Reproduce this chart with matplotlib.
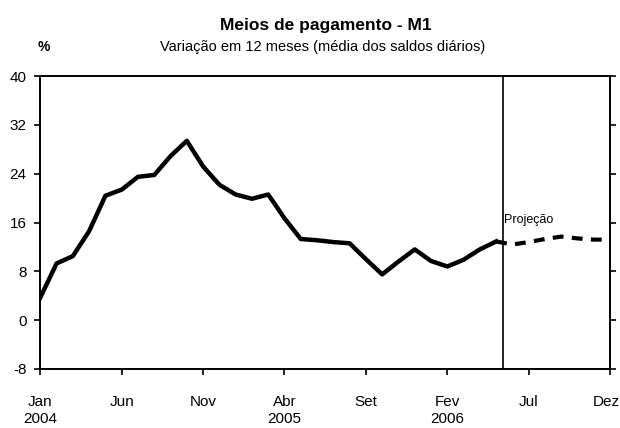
import matplotlib
matplotlib.use('Agg')
import matplotlib.pyplot as plt
import matplotlib.transforms as mtransforms

plt.rcParams['font.family'] = ['Liberation Sans', 'DejaVu Sans']

# Meses: Jan 2004 (0) ... Dez 2006 (35)
realizado = [3.7, 9.3, 10.5, 14.6, 20.4, 21.4, 23.5, 23.8, 26.9, 29.4,
             25.2, 22.2, 20.6, 19.9, 20.6, 16.7, 13.3, 13.1, 12.8, 12.6,
             10.0, 7.5, 9.6, 11.6, 9.7, 8.8, 9.9, 11.6, 12.9]
projecao = [12.9, 12.4, 12.8, 13.3, 13.7, 13.4, 13.2, 13.2]

tick_pos = [0, 5, 10, 15, 20, 25, 30, 35]
tick_labels = ['Jan\n2004', 'Jun', 'Nov', 'Abr\n2005', 'Set', 'Fev\n2006', 'Jul', 'Dez']
y_ticks = [-8, 0, 8, 16, 24, 32, 40]

x_real = list(range(len(realizado)))
x_proj = list(range(len(realizado) - 1, len(realizado) - 1 + len(projecao)))
divisao = 28.4

fig = plt.figure(figsize=(6.2, 4.28), dpi=100)
ax = fig.add_axes([0.065, 0.138, 0.919, 0.684])

ax.plot(x_real, realizado, color='black', linewidth=3.2, solid_joinstyle='round')
ax.plot(x_proj, projecao, color='black', linewidth=3.0, linestyle=(0, (2.6, 2.0)))
ax.axvline(divisao, color='black', linewidth=1.2)

ax.set_xlim(0, 35)
ax.set_ylim(-8, 40)
ax.set_xticks(tick_pos)
ax.set_xticklabels(tick_labels, fontsize=11, linespacing=1.25)
ax.set_yticks(y_ticks)
ax.set_yticklabels([str(v) for v in y_ticks], fontsize=11)
ax.tick_params(axis='x', direction='out', length=4, width=1.2, pad=15)
ax.tick_params(axis='y', direction='out', length=4, width=1.2, pad=6)
ax.tick_params(axis='y', which='both', right=True, labelright=False)

# "Dez" encostado na borda direita
dez = ax.get_xticklabels()[-1]
dez.set_ha('right')
dez.set_transform(dez.get_transform() + mtransforms.ScaledTranslation(0.1, 0, fig.dpi_scale_trans))

for s in ax.spines.values():
    s.set_linewidth(1.4)

ax.text(divisao + 0.1, 15.5, 'Projeção', fontsize=9, ha='left', va='bottom')

fig.text(0.525, 0.93, 'Meios de pagamento - M1', fontsize=12.5, fontweight='bold', ha='center')
fig.text(0.52, 0.88, 'Variação em 12 meses (média dos saldos diários)', fontsize=10.5, ha='center')
fig.text(0.06, 0.88, '%', fontsize=10, fontweight='bold', ha='left')

fig.savefig('out.png', dpi=100)
